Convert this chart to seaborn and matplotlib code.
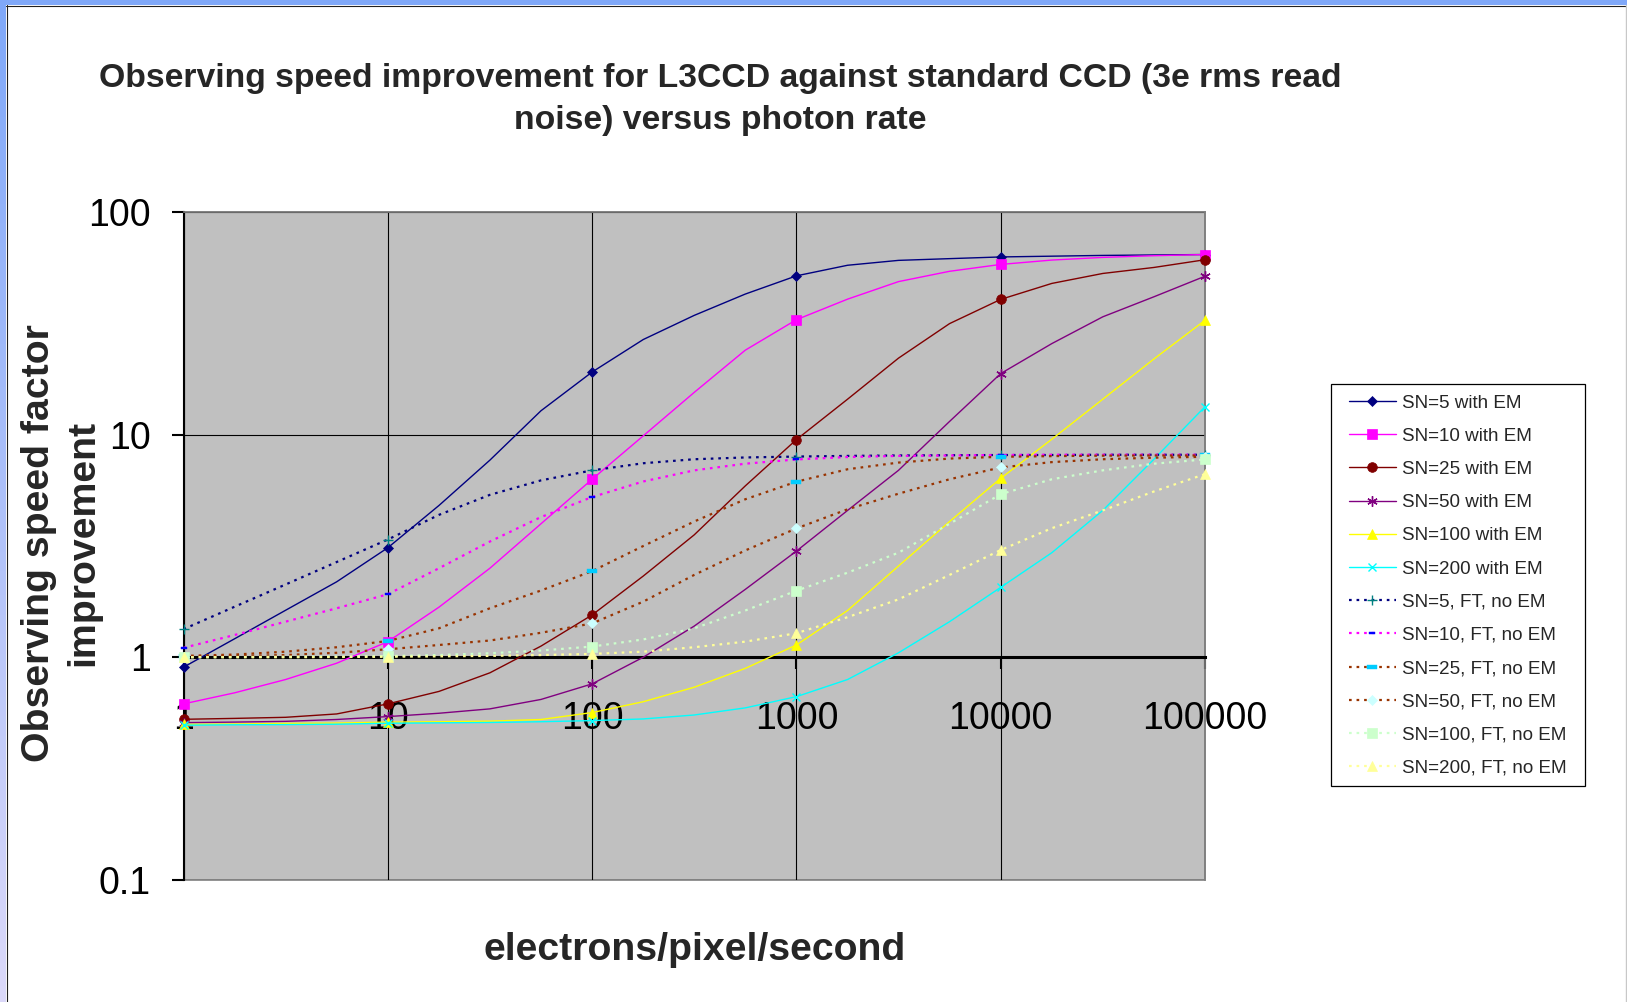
import numpy as np
import matplotlib
matplotlib.use("Agg")
import matplotlib.pyplot as plt
import seaborn as sns
from matplotlib.patches import Rectangle
from matplotlib.lines import Line2D
from matplotlib.path import Path
from matplotlib.ticker import FixedLocator, FixedFormatter, NullLocator

# ---------------- data ----------------
rate = [1, 1.78, 3.16, 5.62, 10, 17.8, 31.6, 56.2, 100, 178, 316, 562,
        1000, 1780, 3160, 5620, 10000, 17800, 31600, 56200, 100000]

sn5_em = [0.902, 1.211, 1.626, 2.183, 3.105, 4.81, 7.69, 12.82, 19.14, 26.8, 34.4,
          42.9, 51.8, 57.8, 60.8, 61.9, 63.0, 63.5, 64.0, 64.3, 64.6]
sn10_em = [0.617, 0.692, 0.794, 0.940, 1.175, 1.679, 2.512, 3.98, 6.31, 9.89, 15.5,
           24.0, 32.9, 40.7, 48.8, 54.3, 58.3, 61.0, 62.7, 63.8, 64.6]
sn25_em = [0.526, 0.531, 0.537, 0.556, 0.617, 0.702, 0.851, 1.122, 1.549, 2.317, 3.548,
           5.89, 9.51, 14.45, 22.1, 31.6, 40.6, 47.9, 53.1, 56.5, 61.2]
sn50_em = [0.508, 0.511, 0.515, 0.525, 0.541, 0.560, 0.586, 0.646, 0.759, 1.0, 1.380,
           2.018, 3.0, 4.57, 6.92, 11.48, 18.84, 25.7, 33.9, 41.7, 51.6]
sn100_em = [0.499, 0.501, 0.504, 0.506, 0.511, 0.513, 0.516, 0.525, 0.564, 0.631, 0.733,
            0.891, 1.135, 1.622, 2.570, 4.074, 6.37, 9.55, 14.45, 21.9, 32.7]
sn200_em = [0.495, 0.497, 0.498, 0.500, 0.505, 0.507, 0.509, 0.513, 0.519, 0.528, 0.550,
            0.592, 0.665, 0.794, 1.047, 1.445, 2.061, 2.951, 4.571, 7.76, 13.37]
sn5_ft = [1.337, 1.687, 2.123, 2.679, 3.381, 4.365, 5.370, 6.237, 6.918, 7.447, 7.762,
          7.907, 7.980, 8.035, 8.072, 8.091, 8.110, 8.11, 8.13, 8.13, 8.13]
sn10_ft = [1.102, 1.259, 1.445, 1.660, 1.919, 2.512, 3.311, 4.266, 5.248, 6.166, 6.918,
           7.413, 7.745, 7.943, 8.035, 8.072, 8.110, 8.13, 8.13, 8.13, 8.13]
sn25_ft = [1.014, 1.028, 1.059, 1.109, 1.183, 1.349, 1.660, 1.995, 2.438, 3.162, 4.074,
           5.129, 6.152, 6.998, 7.499, 7.816, 7.962, 8.017, 8.054, 8.072, 8.072]
sn50_ft = [1.005, 1.012, 1.023, 1.047, 1.086, 1.135, 1.189, 1.288, 1.419, 1.778, 2.344,
           3.020, 3.793, 4.624, 5.433, 6.310, 7.129, 7.534, 7.762, 7.889, 7.962]
sn100_ft = [1.0, 1.002, 1.005, 1.007, 1.012, 1.023, 1.042, 1.072, 1.117, 1.202, 1.349,
            1.622, 1.991, 2.399, 2.951, 3.981, 5.408, 6.310, 6.918, 7.413, 7.745]
sn200_ft = [1.0, 1.0, 1.0, 1.002, 1.005, 1.009, 1.014, 1.023, 1.035, 1.059, 1.109,
            1.175, 1.282, 1.514, 1.820, 2.344, 3.034, 3.802, 4.571, 5.559, 6.653]

series_labels = ["SN=5 with EM", "SN=10 with EM", "SN=25 with EM", "SN=50 with EM",
                 "SN=100 with EM", "SN=200 with EM", "SN=5, FT, no EM", "SN=10, FT, no EM",
                 "SN=25, FT, no EM", "SN=50, FT, no EM", "SN=100, FT, no EM", "SN=200, FT, no EM"]

x_ticks = [1, 10, 100, 1000, 10000, 100000]
x_tick_labels = ["1", "10", "100", "1000", "10000", "100000"]
y_ticks = [0.1, 1, 10, 100]
y_tick_labels = ["0.1", "1", "10", "100"]

title_text = ("Observing speed improvement for L3CCD against standard CCD (3e rms read\n"
              "noise) versus photon rate")
x_label = "electrons/pixel/second"
y_label = "Observing speed factor\nimprovement"

# ---------------- styles ----------------
dash_marker = Path([(-1, -0.4), (1, -0.4), (1, 0.4), (-1, 0.4), (-1, -0.4)],
                   [Path.MOVETO, Path.LINETO, Path.LINETO, Path.LINETO, Path.CLOSEPOLY])
DOT = (0, (1.2, 2.2))
styles = [
    # line colour, linestyle, lw, marker, marker colour, marker size, mew
    ("#000080", "-", 1.0, "D", "#000080", 4.6, 0.5),
    ("#FF00FF", "-", 1.0, "s", "#FF00FF", 7.0, 0.5),
    ("#800000", "-", 1.0, "o", "#800000", 7.0, 0.5),
    ("#800080", "-", 1.0, (6, 2, 0), "#800080", 7.5, 1.0),
    ("#FFFF00", "-", 1.0, "^", "#FFFF00", 7.5, 0.5),
    ("#00FFFF", "-", 1.0, "x", "#00FFFF", 6.0, 1.0),
    ("#000080", DOT, 1.6, "+", "#008080", 7.0, 1.0),
    ("#FF00FF", DOT, 1.6, dash_marker, "#0000FF", 5.0, 0.3),
    ("#993300", DOT, 1.6, dash_marker, "#00CCFF", 7.5, 0.3),
    ("#993300", DOT, 1.6, "D", "#CCFFFF", 5.0, 0.5),
    ("#CCFFCC", DOT, 1.6, "s", "#CCFFCC", 7.0, 0.5),
    ("#FFFF99", DOT, 1.6, "^", "#FFFF99", 7.5, 0.5),
]
series_values = [sn5_em, sn10_em, sn25_em, sn50_em, sn100_em, sn200_em,
                 sn5_ft, sn10_ft, sn25_ft, sn50_ft, sn100_ft, sn200_ft]

# ---------------- figure ----------------
sns.set_style("white")
plt.rcParams["font.family"] = ["Liberation Sans", "DejaVu Sans"]

W, H = 1627, 1002
fig = plt.figure(figsize=(W / 100, H / 100), dpi=100)
fig.patch.set_facecolor("white")

# window-like border decorations
ax_strip = fig.add_axes([0, 0, 6 / W, 1])
grad = np.linspace(0, 1, 256)[:, None]
top_c = np.array([0.50, 0.66, 0.98])
bot_c = np.array([0.86, 0.85, 0.98])
img = top_c[None, None, :] * (1 - grad[:, :, None]) + bot_c[None, None, :] * grad[:, :, None]
ax_strip.imshow(img, aspect="auto", extent=[0, 1, 0, 1])
ax_strip.set_axis_off()
fig.add_artist(Rectangle((0, 1 - 5 / H), 1, 5 / H, transform=fig.transFigure,
                         facecolor="#80A8F8", edgecolor="none", zorder=5))
fig.add_artist(Line2D([6.5 / W, 6.5 / W], [0, 1 - 5 / H], transform=fig.transFigure,
                      color="#202020", lw=0.8, zorder=6))
fig.add_artist(Line2D([6 / W, 1], [1 - 5.5 / H, 1 - 5.5 / H], transform=fig.transFigure,
                      color="#202020", lw=0.8, zorder=6))
fig.add_artist(Line2D([1 - 1 / W, 1 - 1 / W], [0, 1 - 5 / H], transform=fig.transFigure,
                      color="#C8C8C8", lw=1.0, zorder=6))

left, right, top, bottom = 183.5, 1205.0, 212.3, 879.7
ax = fig.add_axes([left / W, 1 - bottom / H, (right - left) / W, (bottom - top) / H])
ax.set_facecolor("#C0C0C0")
ax.set_xscale("log")
ax.set_yscale("log")

for vals, lab, st in zip(series_values, series_labels, styles):
    lc, ls, lw, mk, mc, ms, mew = st
    sns.lineplot(x=rate, y=vals, ax=ax, color=lc, linestyle=ls, linewidth=lw,
                 marker=mk, markersize=ms, markerfacecolor=mc, markeredgecolor=mc,
                 markeredgewidth=mew, markevery=4, label=lab, legend=False,
                 clip_on=False, zorder=3)

ax.set_xlim(1, 100000)
ax.set_ylim(0.1, 100)
ax.xaxis.set_major_locator(FixedLocator(x_ticks))
ax.xaxis.set_major_formatter(FixedFormatter(x_tick_labels))
ax.xaxis.set_minor_locator(NullLocator())
ax.yaxis.set_major_locator(FixedLocator(y_ticks))
ax.yaxis.set_major_formatter(FixedFormatter(y_tick_labels))
ax.yaxis.set_minor_locator(NullLocator())
ax.set_xlabel("")
ax.set_ylabel("")

ax.grid(True, which="major", color="black", linewidth=0.8)
ax.set_axisbelow("line")

for s in ["top", "right"]:
    ax.spines[s].set_color("#808080")
    ax.spines[s].set_linewidth(1.2)
ax.spines["left"].set_color("black")
ax.spines["left"].set_linewidth(1.5)
ax.spines["bottom"].set_position(("data", 1))
ax.spines["bottom"].set_color("black")
ax.spines["bottom"].set_linewidth(2.2)
ax.spines["bottom"].set_zorder(2.6)
ax.add_patch(Rectangle((0, 0), 1, 1, transform=ax.transAxes, fill=False,
                       edgecolor="#808080", linewidth=1.2, zorder=0.5, clip_on=False))

ax.tick_params(axis="x", which="major", direction="out", length=8.6, width=1.5,
               pad=23, labelsize=27, colors="black", bottom=True, top=False)
ax.tick_params(axis="y", which="major", direction="out", length=8.6, width=1.5,
               pad=15, labelsize=27, colors="black", left=True, right=False)

# titles
fig.text(720 / W, 1 - 99.5 / H, title_text, ha="center", va="center", fontsize=24.3,
         fontweight="bold", linespacing=1.45, multialignment="center")
fig.text(695 / W, 1 - 960 / H, x_label, ha="center", va="baseline", fontsize=28.3,
         fontweight="bold")
fig.text(61 / W, 1 - 543 / H, y_label, rotation=90, ha="center", va="center",
         fontsize=28.3, fontweight="bold", linespacing=1.29, multialignment="center")

# legend: separate frame box + frameless legend for exact placement
box_l, box_t, box_r, box_b = 1331, 384, 1584.5, 785.5
fig.add_artist(Rectangle((box_l / W, 1 - box_b / H), (box_r - box_l) / W, (box_b - box_t) / H,
                         transform=fig.transFigure, facecolor="white", edgecolor="black",
                         linewidth=0.9, zorder=4))
handles, labels = ax.get_legend_handles_labels()
leg = fig.legend(handles, labels, loc="upper left",
                 bbox_to_anchor=((1348.6 - 0.5 * 18.9) / W, 1 - (box_t + 1) / H),
                 bbox_transform=fig.transFigure, frameon=False,
                 fontsize=13.6, handlelength=2.49, handletextpad=0.32,
                 borderpad=0.5, labelspacing=0.845, borderaxespad=0)
leg.set_zorder(5)

fig.savefig("out.png", dpi=100, facecolor="white")
